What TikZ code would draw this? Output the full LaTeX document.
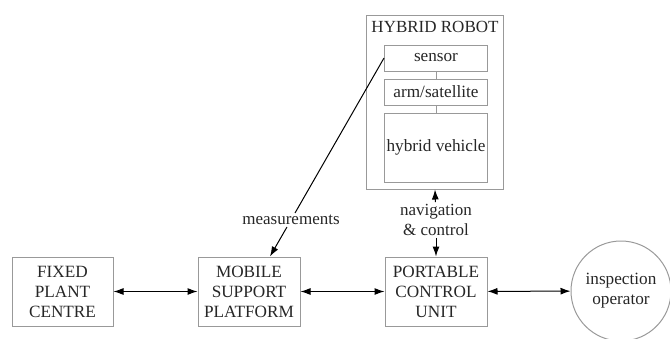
\documentclass[tikz,border=0pt]{standalone}
\usepackage{fontspec}
\setmainfont{Liberation Serif}
\usetikzlibrary{arrows.meta}

\begin{document}
\begin{tikzpicture}[x=1pt, y=-1pt,
	block/.style={draw=black!40, line width=1pt, text=black!85, align=center, inner sep=0pt, font=\fontsize{17.2}{20}\selectfont},
	tag/.style={text=black!85, align=center, inner sep=2pt, font=\fontsize{17}{20}\selectfont},
	link/.style={line width=1pt, {Latex[length=10pt,width=7pt]}-{Latex[length=10pt,width=7pt]}},
	arrow/.style={line width=1pt, -{Latex[length=10pt,width=7pt]}},
	joint/.style={draw=black!40, line width=1pt}]
		\useasboundingbox (0,0) rectangle (670,338);
		\node[block, minimum width=101pt, minimum height=69pt] at (62.5,291.5) (fixed) {FIXED\\PLANT\\CENTRE};
		\node[block, minimum width=102pt, minimum height=69pt] at (249,291.5) (mobile) {MOBILE\\SUPPORT\\PLATFORM};
		\node[block, minimum width=102pt, minimum height=69pt] at (436,291.5) (portable) {PORTABLE\\CONTROL\\UNIT};
		\node[block, circle, minimum size=100pt] at (621,291) (operator) {inspection\\operator};
		\node[block, minimum width=137pt, minimum height=174pt] at (435,102) (robot) {};
		\node[tag] at (435,27) (title) {HYBRID ROBOT};
		\node[block, minimum width=103pt, minimum height=26pt] at (436,58) (sensor) {sensor};
		\node[block, minimum width=103pt, minimum height=26pt] at (436,92) (arm) {arm/satellite};
		\node[block, minimum width=103pt, minimum height=69pt] at (436,147.5) (vehicle) {hybrid vehicle};
		\node[tag] at (436,220) (nav) {navigation\\\& control};
		\node[tag] at (291,220) (meas) {measurements};
		\coordinate (mobtop) at ([xshift=21pt]mobile.north);
		\draw[joint] (sensor) -- (arm) (arm) -- (vehicle);
		\draw[link] (fixed) -- (mobile);
		\draw[link] (mobile) -- (portable);
		\draw[link] (portable) -- (operator);
		\draw[arrow] (nav) -- (robot.south);
		\draw[arrow] (nav) -- (portable);
		\draw[line width=1pt] (sensor.west) -- (meas);
		\draw[arrow] (meas) -- (mobtop);
	\end{tikzpicture}
\end{document}
